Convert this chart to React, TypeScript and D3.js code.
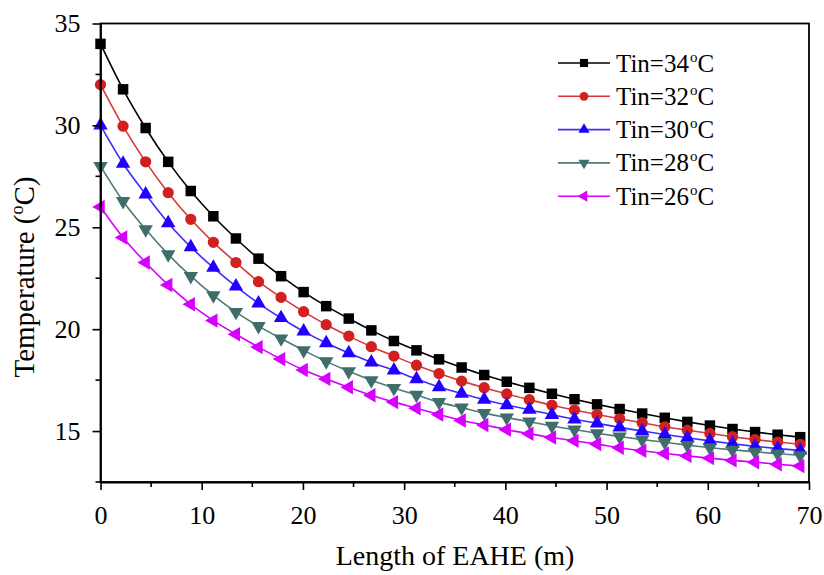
import * as d3 from "d3";
import { useEffect, useRef } from "react";

// length along the EAHE (m), one per marker
const lengths = [
  0, 2.23, 4.46, 6.69, 8.92, 11.15, 13.38, 15.61, 17.84, 20.07, 22.3, 24.53,
  26.76, 28.99, 31.22, 33.45, 35.68, 37.91, 40.14, 42.37, 44.6, 46.83, 49.06,
  51.29, 53.52, 55.75, 57.98, 60.21, 62.44, 64.67, 66.9, 69.13,
];

const tin34 = [
  34.0, 31.77, 29.87, 28.21, 26.78, 25.54, 24.45, 23.46, 22.6, 21.82, 21.13,
  20.52, 19.94, 19.42, 18.96, 18.52, 18.12, 17.75, 17.42, 17.12, 16.83, 16.56,
  16.31, 16.08, 15.86, 15.65, 15.45, 15.27, 15.1, 14.95, 14.82, 14.7,
];
const tin32 = [
  32.0, 29.96, 28.21, 26.7, 25.39, 24.26, 23.27, 22.33, 21.56, 20.86, 20.22,
  19.66, 19.14, 18.68, 18.23, 17.82, 17.45, 17.13, 16.82, 16.54, 16.27, 16.03,
  15.81, 15.6, 15.41, 15.21, 15.04, 14.88, 14.72, 14.58, 14.46, 14.35,
];
const tin30 = [
  30.0, 28.13, 26.62, 25.21, 24.03, 23.02, 22.1, 21.27, 20.55, 19.89, 19.32,
  18.83, 18.37, 17.98, 17.55, 17.16, 16.84, 16.54, 16.28, 16.05, 15.8, 15.58,
  15.38, 15.18, 15.0, 14.83, 14.67, 14.52, 14.38, 14.25, 14.14, 14.05,
];
const tin28 = [
  28.0, 26.28, 24.9, 23.67, 22.6, 21.66, 20.84, 20.15, 19.54, 18.96, 18.42,
  17.93, 17.49, 17.11, 16.77, 16.42, 16.15, 15.88, 15.66, 15.46, 15.25, 15.07,
  14.89, 14.73, 14.58, 14.45, 14.31, 14.18, 14.08, 13.98, 13.89, 13.81,
];
const tin26 = [
  26.0, 24.5, 23.27, 22.17, 21.22, 20.42, 19.75, 19.12, 18.53, 18.0, 17.56,
  17.15, 16.76, 16.42, 16.12, 15.81, 15.52, 15.3, 15.07, 14.87, 14.68, 14.52,
  14.36, 14.18, 14.03, 13.9, 13.78, 13.67, 13.56, 13.47, 13.37, 13.28,
];

const seriesNames = ["34", "32", "30", "28", "26"];
const seriesValues = [tin34, tin32, tin30, tin28, tin26];

const xTicks = [0, 10, 20, 30, 40, 50, 60, 70];
const yTicks = [15, 20, 25, 30, 35];

const STYLES = [
  { color: "#000000", line: "#000000", symbol: d3.symbolSquare, size: 110, rotate: 0 },
  { color: "#d21f1f", line: "#d63a3a", symbol: d3.symbolCircle, size: 100, rotate: 0 },
  { color: "#2200ff", line: "#3b2bff", symbol: d3.symbolTriangle, size: 90, rotate: 0 },
  { color: "#3e6d6b", line: "#4f7a78", symbol: d3.symbolTriangle, size: 90, rotate: 180 },
  { color: "#d600ff", line: "#d600ff", symbol: d3.symbolTriangle, size: 90, rotate: -90 },
];

const FONT = "'Liberation Serif', 'Times New Roman', serif";

const W = 824;
const H = 575;
const plot = { left: 100.5, right: 809, top: 23.5, bottom: 482 };

export default function App() {
  const svgRef = useRef<SVGSVGElement | null>(null);

  useEffect(() => {
    const svg = d3.select(svgRef.current);
    svg.selectAll("*").remove();

    const x = d3.scaleLinear().domain([0, 70]).range([plot.left, plot.right]);
    const y = d3.scaleLinear().domain([12.5, 35]).range([plot.bottom, plot.top]);

    // series lines + markers
    seriesValues.forEach((vals, i) => {
      const st = STYLES[i];
      const pts = vals.map((v, j) => [lengths[j], v] as [number, number]);
      const line = d3
        .line<[number, number]>()
        .x((d) => x(d[0]))
        .y((d) => y(d[1]))
        .curve(d3.curveMonotoneX);
      svg
        .append("path")
        .attr("d", line(pts))
        .attr("fill", "none")
        .attr("stroke", st.line)
        .attr("stroke-width", 1.6);

      const sym = d3.symbol().type(st.symbol).size(st.size);
      svg
        .append("g")
        .selectAll("path")
        .data(pts)
        .enter()
        .append("path")
        .attr("d", sym()!)
        .attr(
          "transform",
          (d) => `translate(${x(d[0])},${y(d[1])}) rotate(${st.rotate})`
        )
        .attr("fill", st.color);
    });

    // frame
    svg
      .append("rect")
      .attr("x", plot.left)
      .attr("y", plot.top)
      .attr("width", plot.right - plot.left)
      .attr("height", plot.bottom - plot.top)
      .attr("fill", "none")
      .attr("stroke", "#000")
      .attr("stroke-width", 1.8);

    // bottom axis
    const xAxis = d3
      .axisBottom(x)
      .tickValues(xTicks)
      .tickSize(8)
      .tickSizeOuter(0)
      .tickPadding(16);
    const gx = svg
      .append("g")
      .attr("transform", `translate(0,${plot.bottom})`)
      .call(xAxis);
    gx.select(".domain").attr("stroke-width", 1.8);
    gx.selectAll("line").attr("stroke-width", 1.6);
    gx.selectAll("text")
      .attr("font-family", FONT)
      .attr("font-size", 26)
      .attr("fill", "#000");
    gx.selectAll(".minor")
      .data(d3.range(5, 70, 10))
      .enter()
      .append("line")
      .attr("x1", (d) => x(d))
      .attr("x2", (d) => x(d))
      .attr("y1", 0)
      .attr("y2", 5)
      .attr("stroke", "#000")
      .attr("stroke-width", 1.6);

    // left axis
    const yAxis = d3
      .axisLeft(y)
      .tickValues(yTicks)
      .tickSize(8)
      .tickSizeOuter(0)
      .tickPadding(12);
    const gy = svg
      .append("g")
      .attr("transform", `translate(${plot.left},0)`)
      .call(yAxis);
    gy.select(".domain").attr("stroke-width", 1.8);
    gy.selectAll("line").attr("stroke-width", 1.6);
    gy.selectAll("text")
      .attr("font-family", FONT)
      .attr("font-size", 26)
      .attr("fill", "#000");
    gy.selectAll(".minor")
      .data(d3.range(12.5, 35, 5))
      .enter()
      .append("line")
      .attr("y1", (d) => y(d))
      .attr("y2", (d) => y(d))
      .attr("x1", 0)
      .attr("x2", -5)
      .attr("stroke", "#000")
      .attr("stroke-width", 1.6);

    // axis titles
    svg
      .append("text")
      .attr("x", 455)
      .attr("y", 565)
      .attr("text-anchor", "middle")
      .attr("font-family", FONT)
      .attr("font-size", 28)
      .text("Length of EAHE (m)");

    const yt = svg
      .append("text")
      .attr("transform", `translate(34,277) rotate(-90)`)
      .attr("text-anchor", "middle")
      .attr("font-family", FONT)
      .attr("font-size", 29);
    yt.append("tspan").text("Temperature (");
    yt.append("tspan").attr("font-size", 18).attr("dy", -11).text("o");
    yt.append("tspan").attr("dy", 11).text("C)");

    // legend
    const leg = svg.append("g").attr("transform", "translate(558,63)");
    seriesNames.forEach((name, i) => {
      const st = STYLES[i];
      const row = leg.append("g").attr("transform", `translate(0,${i * 33.3})`);
      row
        .append("line")
        .attr("x1", 0)
        .attr("x2", 52)
        .attr("stroke", st.line)
        .attr("stroke-width", 1.6);
      row
        .append("path")
        .attr("d", d3.symbol().type(st.symbol).size(st.size * 0.6)()!)
        .attr("transform", `translate(26,0) rotate(${st.rotate})`)
        .attr("fill", st.color);
      const t = row
        .append("text")
        .attr("x", 58)
        .attr("y", 8.5)
        .attr("font-family", FONT)
        .attr("font-size", 25);
      t.append("tspan").text(`Tin=${name}`);
      t.append("tspan").attr("font-size", 15).attr("dy", -10).attr("dx", 1).text("o");
      t.append("tspan").attr("dy", 10).text("C");
    });
  }, []);

  return (
    <svg
      ref={svgRef}
      width={W}
      height={H}
      style={{ position: "absolute", left: 0, top: 0, background: "#fff" }}
    />
  );
}
